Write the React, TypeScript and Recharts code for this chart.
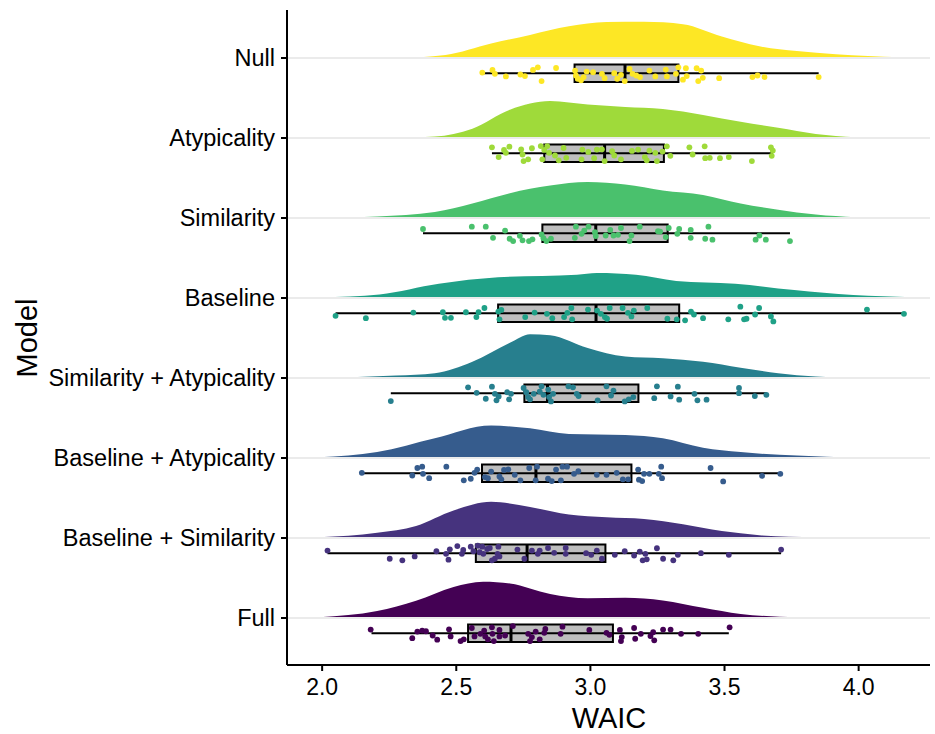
import { ComposedChart, Area, Scatter, XAxis, YAxis, ReferenceArea, ReferenceLine } from "recharts";

// bottom to top, as on the y axis
const MODELS = [
  "Full",
  "Baseline + Similarity",
  "Baseline + Atypicality",
  "Similarity + Atypicality",
  "Baseline",
  "Similarity",
  "Atypicality",
  "Null",
];

const COLORS = ["#440154", "#46337E", "#365C8D", "#277F8E", "#1FA187", "#4AC16D", "#9FDA3A", "#FDE725"];

const X_TICKS = [2.0, 2.5, 3.0, 3.5, 4.0];

// density curves: [WAIC, height]
const densFull = [[1.99, 0.7], [2.205, 6.9], [2.35, 17.2], [2.49, 31], [2.6, 36.2], [2.7, 34.5], [2.85, 24.1], [2.99, 19.7], [3.13, 20.3], [3.27, 17.6], [3.42, 10.3], [3.56, 4.1], [3.77, 0.7], [3.95, 0]];
const densBS = [[1.99, 0.7], [2.205, 5.2], [2.35, 12.1], [2.49, 27.6], [2.63, 36.2], [2.775, 31], [2.92, 23.4], [3.06, 20.7], [3.2, 19], [3.345, 13.8], [3.49, 6.9], [3.63, 2.8], [3.84, 0.7], [3.99, 0]];
const densBA = [[1.99, 0.7], [2.205, 5.9], [2.42, 19.7], [2.63, 32.4], [2.775, 29.7], [2.92, 24.1], [3.13, 23.1], [3.27, 19.7], [3.42, 10.3], [3.56, 5.9], [3.77, 2.4], [3.99, 0.3]];
const densSA = [[1.99, 0], [2.276, 2.4], [2.42, 4.8], [2.56, 16.2], [2.7, 35.2], [2.775, 43.8], [2.85, 42.8], [2.99, 30], [3.13, 21.4], [3.27, 19.7], [3.42, 16.2], [3.56, 10.3], [3.7, 4.8], [3.84, 1.4], [3.99, 0]];
const densBaseline = [[1.994, 0.7], [2.214, 3.6], [2.435, 14.3], [2.656, 20.7], [2.95, 23.2], [3.024, 25], [3.17, 23.2], [3.32, 17.1], [3.54, 14.3], [3.76, 7.9], [3.98, 2.9], [4.2, 0.7]];
const densSimilarity = [[2.06, 0], [2.205, 1.4], [2.42, 5.9], [2.56, 14.5], [2.7, 24.8], [2.85, 32.4], [2.99, 35.9], [3.13, 33.4], [3.27, 27.6], [3.42, 23.1], [3.56, 14.5], [3.7, 8.3], [3.84, 3.4], [3.99, 0.7]];
const densAtypicality = [[2.276, 0], [2.42, 1.4], [2.56, 9.3], [2.7, 28.3], [2.85, 36.9], [2.99, 33.4], [3.13, 31], [3.27, 29], [3.42, 23.1], [3.56, 16.2], [3.7, 10.3], [3.84, 4.1], [3.99, 0.7]];
const densNull = [[2.276, 0], [2.46, 3.1], [2.63, 14.5], [2.775, 23.1], [2.92, 31.7], [3.06, 35.9], [3.2, 36.2], [3.345, 33.8], [3.49, 21.4], [3.63, 11.7], [3.77, 6.9], [3.915, 3.8], [4.155, 0.7]];
const DENSITIES = [densFull, densBS, densBA, densSA, densBaseline, densSimilarity, densAtypicality, densNull];

// box plot stats
const whiskerLow = [2.184, 2.02, 2.148, 2.256, 2.05, 2.376, 2.633, 2.601];
const q1 = [2.544, 2.573, 2.596, 2.754, 2.656, 2.821, 2.828, 2.941];
const median = [2.704, 2.764, 2.797, 2.84, 3.021, 3.02, 3.053, 3.129];
const q3 = [3.084, 3.056, 3.153, 3.179, 3.331, 3.288, 3.274, 3.328];
const whiskerHigh = [3.516, 3.711, 3.709, 3.656, 4.169, 3.744, 3.68, 3.851];

// jittered observations: [WAIC, jitter (-1 top .. 1 bottom)]
const ptsFull = [[2.181, -0.41], [2.336, 0.56], [2.355, -0.19], [2.373, -0.3], [2.387, -0.22], [2.412, 0.26], [2.429, 0.74], [2.473, -0.44], [2.479, 0.37], [2.516, 0.89], [2.528, 0.7], [2.558, -0.59], [2.568, 0.37], [2.59, 0.07], [2.604, -0.3], [2.608, 0.37], [2.618, 0.7], [2.633, -0.67], [2.635, 0.07], [2.64, 0.89], [2.661, -0.37], [2.661, 0.37], [2.682, 0.26], [2.711, -0.81], [2.768, 0.07], [2.775, 0.89], [2.782, 0.44], [2.796, -0.19], [2.811, 0.7], [2.828, -0.04], [2.832, -0.48], [2.889, 0.07], [2.896, -0.74], [2.996, -0.37], [3.06, -0.04], [3.071, 0.19], [3.11, -0.37], [3.114, 0.89], [3.117, 0.44], [3.163, -0.59], [3.167, 0.63], [3.188, 0.07], [3.224, 0.33], [3.234, -0.11], [3.238, 0.81], [3.271, -0.41], [3.299, -0.41], [3.338, 0.07], [3.402, 0.07], [3.519, -0.67]];
const ptsBS = [[2.02, -0.3], [2.252, 0.63], [2.299, 0.81], [2.345, 0.37], [2.426, -0.22], [2.462, 0.07], [2.471, 0.74], [2.476, -0.44], [2.504, -0.81], [2.521, 0.07], [2.526, -0.37], [2.554, -0.74], [2.564, -0.22], [2.58, -0.85], [2.587, -0.11], [2.597, -0.74], [2.601, 0.07], [2.615, -0.48], [2.625, -0.59], [2.633, 0.81], [2.644, 0.63], [2.654, 0.07], [2.657, -0.74], [2.661, 0.37], [2.728, -0.41], [2.754, 0.63], [2.782, -0.3], [2.804, 0.07], [2.811, -0.3], [2.842, -0.59], [2.865, -0.04], [2.908, -0.59], [2.908, 0.07], [2.984, 0], [3.003, 0.19], [3.024, -0.3], [3.043, 0.63], [3.091, 0.19], [3.128, -0.22], [3.163, 0.26], [3.184, -0.19], [3.195, 0.81], [3.205, 0.07], [3.21, 0.7], [3.248, -0.56], [3.271, 0.63], [3.309, 0.81], [3.326, 0.19], [3.412, 0], [3.516, 0.19], [3.711, -0.41]];
const ptsBA = [[2.148, -0.04], [2.336, 0.26], [2.355, -0.59], [2.373, -0.74], [2.376, 0.07], [2.399, 0.56], [2.463, -0.74], [2.528, 0.81], [2.554, 0.63], [2.568, -0.04], [2.578, -0.41], [2.607, 0.44], [2.618, 0.56], [2.63, -0.19], [2.661, 0.37], [2.668, 0.7], [2.678, -0.37], [2.694, -0.44], [2.718, 0.19], [2.739, 0.81], [2.772, -0.59], [2.796, 0.81], [2.801, -0.74], [2.842, 0.63], [2.856, 0.89], [2.872, -0.41], [2.89, 0.81], [2.896, -0.74], [2.913, -0.74], [2.939, 0.07], [2.955, -0.22], [3.024, 0.19], [3.06, 0.19], [3.098, -0.04], [3.121, 0.7], [3.141, 0.7], [3.178, -0.41], [3.181, 0.74], [3.193, 0.89], [3.2, 0.07], [3.22, 0.07], [3.255, 0.07], [3.264, -0.74], [3.267, 0.56], [3.448, -0.59], [3.495, 0.93], [3.64, 0.3], [3.708, 0.07]];
const ptsSA = [[2.256, 0.89], [2.544, -0.67], [2.576, -0.04], [2.61, 0.63], [2.633, -0.74], [2.644, 0.07], [2.65, 0.81], [2.658, 0.37], [2.69, -0.11], [2.697, 0.7], [2.704, 0.07], [2.751, -0.59], [2.761, -0.11], [2.768, 0.44], [2.775, 0.7], [2.789, 0.07], [2.811, -0.19], [2.818, -0.78], [2.825, 0.19], [2.843, -0.41], [2.846, 0.44], [2.853, 0.93], [2.861, 0.07], [2.918, -0.78], [2.935, -0.67], [2.949, 0.07], [2.956, 0.33], [3.027, 0.81], [3.06, -0.78], [3.077, 0.26], [3.086, -0.3], [3.128, 0.93], [3.143, 0.7], [3.16, 0.44], [3.238, 0.56], [3.248, -0.78], [3.299, 0.37], [3.326, -0.74], [3.331, 0.74], [3.388, 0.07], [3.399, 0.81], [3.433, 0.74], [3.554, -0.59], [3.554, 0], [3.613, 0.33], [3.656, 0.19]];
const ptsBaseline = [[2.05, 0.3], [2.163, 0.56], [2.34, -0.07], [2.45, -0.11], [2.458, 0.52], [2.48, 0.52], [2.536, -0.11], [2.575, 0.44], [2.583, -0.11], [2.605, -0.59], [2.657, -0.19], [2.661, 0.7], [2.668, -0.37], [2.757, 0.44], [2.792, -0.07], [2.838, 0.07], [2.858, 0.56], [2.902, 0.44], [2.914, -0.04], [2.929, -0.59], [2.932, 0.7], [2.991, -0.41], [3.025, -0.3], [3.039, 0.07], [3.054, 0.44], [3.062, 0.63], [3.072, -0.59], [3.12, -0.59], [3.14, -0.04], [3.153, 0.37], [3.162, -0.3], [3.212, -0.59], [3.287, 0.63], [3.322, 0.7], [3.353, 0.81], [3.375, -0.19], [3.386, 0.15], [3.42, 0.56], [3.514, 0.7], [3.559, -0.74], [3.573, 0.7], [3.582, 0.63], [3.614, 0.15], [3.629, -0.59], [3.673, 0.37], [3.682, 0.93], [4.031, -0.41], [4.169, 0.07]];
const ptsSimilarity = [[2.376, -0.48], [2.558, -0.74], [2.61, -0.74], [2.637, 0.52], [2.682, -0.3], [2.699, 0.63], [2.712, 0.89], [2.737, 0.3], [2.747, 0.81], [2.771, 0.89], [2.784, 0.7], [2.818, 0.15], [2.825, 0.56], [2.836, 0.89], [2.853, 0.63], [2.942, 0.52], [2.946, -0.74], [2.967, 0.07], [2.977, -0.3], [2.993, -0.74], [3.017, -0.11], [3.02, 0.33], [3.057, 0.26], [3.074, -0.37], [3.086, 0.26], [3.103, 0.19], [3.114, -0.59], [3.146, 0.89], [3.153, 0.26], [3.184, -0.74], [3.252, -0.22], [3.26, -0.19], [3.281, 0.44], [3.292, -0.59], [3.324, 0.07], [3.331, -0.48], [3.374, -0.37], [3.374, 0.52], [3.428, 0.63], [3.44, -0.74], [3.455, 0.74], [3.616, 0.74], [3.63, 0.26], [3.654, 0.74], [3.744, 0.89]];
const ptsAtypicality = [[2.633, -0.67], [2.658, 0.44], [2.678, -0.37], [2.685, -0.04], [2.698, -0.74], [2.742, -0.44], [2.747, 0.15], [2.751, 0.89], [2.768, 0.7], [2.782, -0.56], [2.815, -0.81], [2.821, 0.7], [2.828, -0.37], [2.839, -0.81], [2.846, -0.04], [2.868, 0.26], [2.882, 0.81], [2.9, -0.59], [2.91, 0.52], [2.967, 0.7], [2.97, -0.41], [2.992, -0.15], [3.014, 0.56], [3.024, -0.41], [3.043, -0.44], [3.053, 0.89], [3.081, -0.22], [3.089, 0.26], [3.114, 0.7], [3.155, -0.26], [3.178, -0.41], [3.203, 0.44], [3.21, 0.81], [3.22, -0.3], [3.242, -0.04], [3.248, 0.89], [3.269, -0.19], [3.285, -0.78], [3.298, 0.3], [3.369, -0.67], [3.381, 0.15], [3.426, -0.78], [3.428, 0.56], [3.445, 0.52], [3.483, 0.56], [3.516, 0.44], [3.602, 0.89], [3.673, -0.67], [3.676, 0.3], [3.68, -0.3]];
const ptsNull = [[2.597, -0.07], [2.635, -0.37], [2.644, 0.07], [2.685, 0.37], [2.739, 0.15], [2.756, 0.33], [2.786, -0.37], [2.804, -0.67], [2.818, 0.89], [2.872, -0.59], [2.943, -0.3], [2.946, 0.26], [2.953, 0.63], [2.965, 0.81], [2.975, 0.44], [2.986, -0.19], [3.01, -0.11], [3.043, 0.07], [3.053, 0.56], [3.089, 0], [3.1, 0.63], [3.114, 0.19], [3.128, 0.89], [3.146, -0.48], [3.157, 0.07], [3.171, 0.26], [3.185, 0.44], [3.22, -0.3], [3.242, 0.37], [3.281, -0.41], [3.285, 0.37], [3.319, 0.07], [3.328, -0.67], [3.345, 0.74], [3.356, -0.56], [3.359, 0.33], [3.396, -0.56], [3.402, 0.89], [3.413, -0.3], [3.419, 0.52], [3.48, 0.56], [3.604, 0.44], [3.623, 0.26], [3.649, 0.44], [3.851, 0.44]];
const POINTS = [ptsFull, ptsBS, ptsBA, ptsSA, ptsBaseline, ptsSimilarity, ptsAtypicality, ptsNull];

const FONT = "'Liberation Sans', Arial, Helvetica, sans-serif";
const DENS_SCALE = 1 / 80;
const BOX_OFFSET = 0.19;
const BOX_HALF = 0.11;

const Dot = (color: string) => (p: any) => <circle cx={p.cx} cy={p.cy} r={2.9} fill={color} />;

export default function App() {
  return (
    <div style={{ width: 935, height: 734 }}>
      <style>{"body{margin:0}"}</style>
      <ComposedChart width={935} height={734} margin={{ top: 10, right: 5, bottom: 0, left: 0 }}>
        <XAxis
          type="number"
          dataKey="x"
          domain={[1.869, 4.266]}
          ticks={X_TICKS}
          allowDataOverflow
          tickFormatter={(v: number) => v.toFixed(1)}
          tick={{ fill: "#000", fontSize: 23, fontFamily: FONT }}
          axisLine={{ stroke: "#000", strokeWidth: 2 }}
          tickLine={{ stroke: "#000", strokeWidth: 2 }}
          tickSize={6}
          tickMargin={8}
          height={69}
          label={{
            content: () => (
              <text x={609} y={728} textAnchor="middle" fontSize={29} fontFamily={FONT} fill="#000">
                WAIC
              </text>
            ),
          }}
        />
        <YAxis
          type="number"
          domain={[0.4125, 8.6]}
          ticks={[1, 2, 3, 4, 5, 6, 7, 8]}
          interval={0}
          allowDataOverflow
          tickFormatter={(v: number) => MODELS[v - 1] ?? ""}
          tick={{ fill: "#000", fontSize: 23.5, fontFamily: FONT }}
          axisLine={{ stroke: "#000", strokeWidth: 2 }}
          tickLine={{ stroke: "#000", strokeWidth: 2 }}
          tickSize={6}
          tickMargin={6}
          width={287}
          label={{
            content: () => (
              <text
                x={27}
                y={338}
                transform="rotate(-90 27 338)"
                textAnchor="middle"
                dominantBaseline="central"
                fontSize={29}
                fontFamily={FONT}
                fill="#000"
              >
                Model
              </text>
            ),
          }}
        />

        {/* light horizontal guide at each model */}
        {MODELS.map((_, i) => (
          <ReferenceLine key={`g${i}`} y={i + 1} stroke="#ebebeb" strokeWidth={2} />
        ))}

        {DENSITIES.map((dens, i) => (
          <Area
            key={`d${i}`}
            data={dens.map(([x, h]) => ({ x, band: [i + 1, i + 1 + h * DENS_SCALE] }))}
            dataKey="band"
            type="monotone"
            fill={COLORS[i]}
            fillOpacity={1}
            stroke="none"
            isAnimationActive={false}
          />
        ))}

        {MODELS.map((_, i) => {
          const c = i + 1 - BOX_OFFSET;
          return (
            <ReferenceLine
              key={`w${i}`}
              segment={[
                { x: whiskerLow[i], y: c },
                { x: whiskerHigh[i], y: c },
              ]}
              stroke="#000"
              strokeWidth={2}
            />
          );
        })}
        {MODELS.map((_, i) => {
          const c = i + 1 - BOX_OFFSET;
          return (
            <ReferenceArea
              key={`b${i}`}
              x1={q1[i]}
              x2={q3[i]}
              y1={c - BOX_HALF}
              y2={c + BOX_HALF}
              fill="#bebebe"
              fillOpacity={1}
              stroke="#000"
              strokeWidth={2}
            />
          );
        })}
        {MODELS.map((_, i) => {
          const c = i + 1 - BOX_OFFSET;
          return (
            <ReferenceLine
              key={`m${i}`}
              segment={[
                { x: median[i], y: c - BOX_HALF },
                { x: median[i], y: c + BOX_HALF },
              ]}
              stroke="#000"
              strokeWidth={3}
            />
          );
        })}

        {POINTS.map((pts, i) => (
          <Scatter
            key={`p${i}`}
            data={pts.map(([x, j]) => ({ x, y: i + 1 - BOX_OFFSET - j * BOX_HALF }))}
            dataKey="y"
            fill={COLORS[i]}
            shape={Dot(COLORS[i])}
            isAnimationActive={false}
          />
        ))}
      </ComposedChart>
    </div>
  );
}
